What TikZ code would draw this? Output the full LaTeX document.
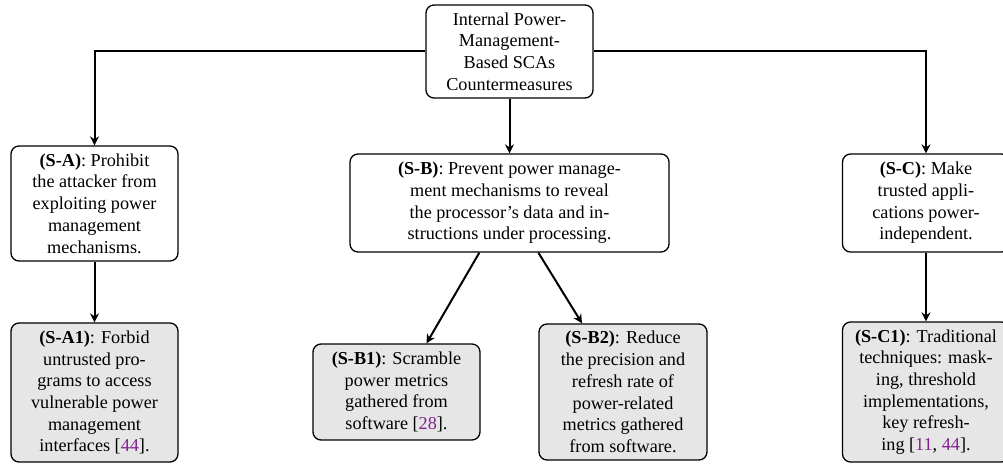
\documentclass[tikz,border=0pt]{standalone}
\usepackage{fontspec}
\setmainfont{Liberation Serif}
\usetikzlibrary{arrows.meta,calc}
\definecolor{citec}{RGB}{128,36,140}
\definecolor{boxfill}{RGB}{230,230,230}
\newcommand{\mycite}[1]{\textcolor{citec}{#1}}
\begin{document}
\begin{tikzpicture}[x=0.5pt,y=-0.5pt,
  box/.style={draw, rounded corners=4pt, line width=0.65pt, align=center,
    font=\fontsize{9.1}{10.85}\selectfont, inner sep=0pt},
  leaf/.style={box, fill=boxfill},
  arr/.style={-{Stealth[length=4.5pt,width=4.5pt,inset=1.5pt]}, line width=1pt}]
\clip (0,0) rectangle (1003,464);
\node[box, minimum width=83.5pt, minimum height=46.5pt] (top) at (509.5,51.5)
  {Internal Power-\\Management-\\Based SCAs\\Countermeasures};
\node[box, minimum width=83.5pt, minimum height=57.5pt] (sa) at (94.5,203.5)
  {\textbf{(S-A)}: Prohibit\\the attacker from\\exploiting power\\management\\mechanisms.};
\node[leaf, minimum width=83.5pt, minimum height=69.5pt] (sa1) at (94.5,392.5)
  {\textbf{(S-A1)}: Forbid\\untrusted pro-\\grams to access\\vulnerable power\\management\\interfaces [\mycite{44}].};
\node[box, minimum width=159.5pt, minimum height=49pt] (sb) at (509.5,203)
  {\textbf{(S-B)}: Prevent power manage-\\ment mechanisms to reveal\\the processor's data and in-\\structions under processing.};
\node[leaf, minimum width=83.5pt, minimum height=48pt] (sb1) at (396.5,392)
  {\textbf{(S-B1)}: Scramble\\power metrics\\gathered from\\software [\mycite{28}].};
\node[leaf, minimum width=84pt, minimum height=68pt] (sb2) at (623,392)
  {\textbf{(S-B2)}: Reduce\\the precision and\\refresh rate of\\power-related\\metrics gathered\\from software.};
\node[box, minimum width=83.5pt, minimum height=49pt] (sc) at (926,203)
  {\textbf{(S-C)}: Make\\trusted appli-\\cations power-\\independent.};
\node[leaf, minimum width=83.5pt, minimum height=70pt] (sc1) at (926,392)
  {\textbf{(S-C1)}: Traditional\\techniques: mask-\\ing, threshold\\implementations,\\key refresh-\\ing [\mycite{11}, \mycite{44}].};
\draw[arr] (top.west) -| (sa.north);
\draw[arr] (top.east) -| (sc.north);
\draw[arr] (top.south) -- (sb.north);
\draw[arr] (sa.south) -- (sa1.north);
\draw[arr] (sc.south) -- (sc1.north);
\draw[arr] ([xshift=65pt]sb.south west) -- ([xshift=15pt]sb1.north);
\draw[arr] ([xshift=94.5pt]sb.south west) -- ([xshift=-20.5pt]sb2.north);
\end{tikzpicture}
\end{document}
